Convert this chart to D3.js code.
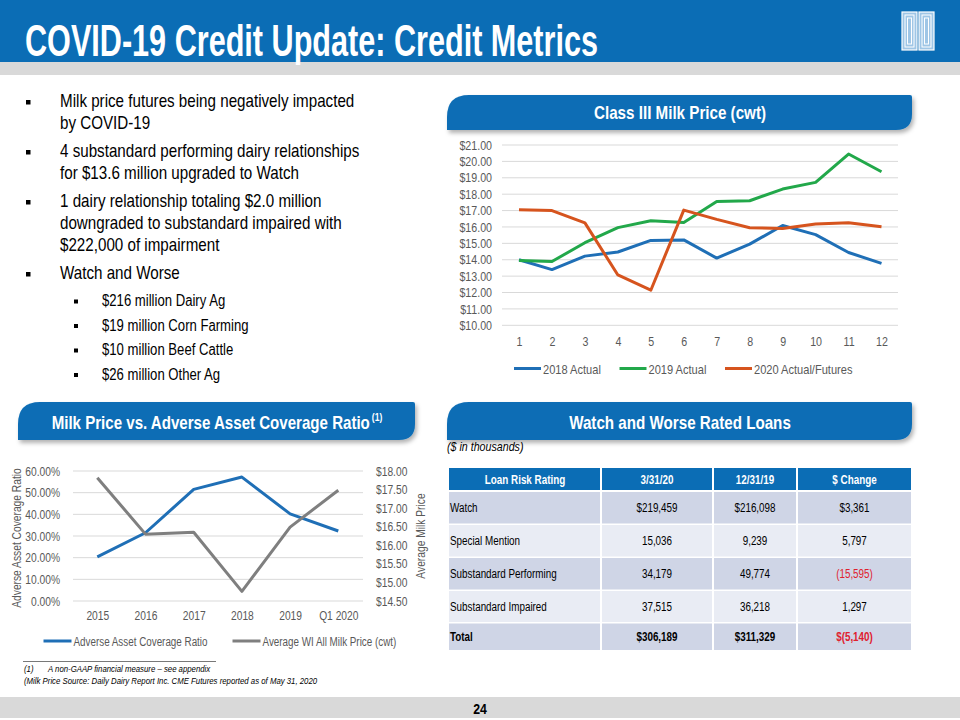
<!DOCTYPE html>
<html>
<head>
<meta charset="utf-8">
<script src="https://cdn.jsdelivr.net/npm/d3@7"></script>
<style>
  html, body { margin: 0; padding: 0; background: #fff; }
  svg { display: block; }
  text { font-family: 'Liberation Sans', Arial, sans-serif; }
</style>
</head>
<body>
<svg id="chart" width="960" height="720"></svg>
<script>
// ---------------- DATA ----------------
const title = "COVID-19 Credit Update: Credit Metrics";
const pageNumber = "24";

const bullets = [
  ["Milk price futures being negatively impacted", "by COVID-19"],
  ["4 substandard performing dairy relationships", "for $13.6 million upgraded to Watch"],
  ["1 dairy relationship totaling $2.0 million", "downgraded to substandard impaired with", "$222,000 of impairment"],
  ["Watch and Worse"]
];
const subBullets = ["$216 million Dairy Ag", "$19 million Corn Farming", "$10 million Beef Cattle", "$26 million Other Ag"];

// Class III milk price chart
const months = ["1","2","3","4","5","6","7","8","9","10","11","12"];
const milk2018 = [14.00, 13.40, 14.22, 14.47, 15.18, 15.21, 14.10, 14.95, 16.09, 15.53, 14.44, 13.78];
const milk2019 = [13.96, 13.89, 15.04, 15.96, 16.38, 16.27, 17.55, 17.60, 18.31, 18.72, 20.45, 19.37];
const milk2020 = [17.05, 17.00, 16.25, 13.07, 12.14, 17.03, 16.46, 15.95, 15.91, 16.18, 16.26, 16.01];
const milkSeriesNames = ["2018 Actual", "2019 Actual", "2020 Actual/Futures"];
const milkTicks = [10, 11, 12, 13, 14, 15, 16, 17, 18, 19, 20, 21];

// Milk price vs adverse asset coverage ratio
const years = ["2015", "2016", "2017", "2018", "2019", "Q1 2020"];
const coverageRatio = [20.4, 31.5, 51.5, 57.2, 40.2, 32.3];
const wiMilkPrice = [17.82, 16.30, 16.35, 14.76, 16.49, 17.48];
const coverageTicks = [0, 10, 20, 30, 40, 50, 60];
const priceTicks = [14.5, 15, 15.5, 16, 16.5, 17, 17.5, 18];
const comboSeriesNames = ["Adverse Asset Coverage Ratio", "Average WI All Milk Price (cwt)"];

// Watch and worse table
const tableHeader = ["Loan Risk Rating", "3/31/20", "12/31/19", "$ Change"];
const ratings = ["Watch", "Special Mention", "Substandard Performing", "Substandard Impaired", "Total"];
const val033120 = ["$219,459", "15,036", "34,179", "37,515", "$306,189"];
const val123119 = ["$216,098", "9,239", "49,774", "36,218", "$311,329"];
const valChange = ["$3,361", "5,797", "(15,595)", "1,297", "$(5,140)"];

const footnotes = ["A non-GAAP financial measure \u2013 see appendix",
                   "(Milk Price Source:  Daily Dairy Report Inc. CME Futures reported as of May 31, 2020"];

// ---------------- DRAWING ----------------
const svg = d3.select("#chart");
const BLUE = "#0B6DB5";
const AXIS_GRAY = "#595959";

const defs = svg.append("defs");
const f = defs.append("filter").attr("id", "shadow").attr("x", "-5%").attr("y", "-20%").attr("width", "115%").attr("height", "160%");
f.append("feDropShadow").attr("dx", 2).attr("dy", 3).attr("stdDeviation", 2).attr("flood-color", "#000").attr("flood-opacity", 0.3);

// Header
svg.append("rect").attr("x", 0).attr("y", 0).attr("width", 960).attr("height", 62).attr("fill", BLUE);
svg.append("rect").attr("x", 0).attr("y", 62).attr("width", 960).attr("height", 13).attr("fill", "#D9D9D9");
svg.append("text").attr("class", "fixed").attr("x", 25).attr("y", 56).attr("fill", "#fff")
  .attr("font-size", 44).attr("font-weight", "bold")
  .attr("textLength", 573).attr("lengthAdjust", "spacingAndGlyphs")
  .text(title);

// Logo (two pillars)
[902, 919].forEach(px => {
  const g = svg.append("g");
  g.append("rect").attr("x", px).attr("y", 12).attr("width", 15).attr("height", 38).attr("fill", "#9FC6E6").attr("stroke", "#fff").attr("stroke-width", 1.2);
  g.append("rect").attr("x", px + 3).attr("y", 15).attr("width", 9).attr("height", 32).attr("fill", "none").attr("stroke", "#fff").attr("stroke-width", 1);
  g.append("rect").attr("x", px + 5.5).attr("y", 18).attr("width", 4).attr("height", 26).attr("fill", "none").attr("stroke", "#fff").attr("stroke-width", 1);
});

// Footer
svg.append("rect").attr("x", 0).attr("y", 697).attr("width", 960).attr("height", 21).attr("fill", "#D9D9D9");
svg.append("text").attr("x", 480).attr("y", 714).attr("text-anchor", "middle").attr("font-size", 15).attr("font-weight", "bold").attr("fill", "#000").text(pageNumber);

// Bullets
const bulletG = svg.append("g");
let by = 107;
bullets.forEach(lines => {
  bulletG.append("rect").attr("x", 26).attr("y", by - 7).attr("width", 4.5).attr("height", 4.5).attr("fill", "#000");
  lines.forEach((ln, i) => {
    bulletG.append("text").attr("x", 60).attr("y", by + i * 22).attr("font-size", 18.5).attr("fill", "#000").text(ln);
  });
  by += lines.length * 22 + 6;
});
subBullets.forEach((s, i) => {
  const y = 306 + i * 24.5;
  bulletG.append("rect").attr("x", 74).attr("y", y - 6.5).attr("width", 4).attr("height", 4).attr("fill", "#000");
  bulletG.append("text").attr("x", 102).attr("y", y).attr("font-size", 16).attr("fill", "#000").text(s);
});

// Tab header helper
function tab(x0, y0, x1, y1, label, cx, sup) {
  const rTL = 22, rBR = 16, r = 2;
  const p = `M${x0},${y1} L${x0},${y0 + rTL} Q${x0},${y0} ${x0 + rTL},${y0} L${x1 - r},${y0} Q${x1},${y0} ${x1},${y0 + r} L${x1},${y1 - rBR} Q${x1},${y1} ${x1 - rBR},${y1} Z`;
  svg.append("path").attr("d", p).attr("fill", BLUE).attr("filter", "url(#shadow)");
  const t = svg.append("text").attr("x", cx).attr("y", y1 - 11).attr("text-anchor", "middle")
    .attr("fill", "#fff").attr("font-size", 18.5).attr("font-weight", "bold");
  t.append("tspan").text(label);
  if (sup) t.append("tspan").attr("font-size", 10.5).attr("dx", 2.5).attr("dy", -8).text(sup);
}
tab(447, 95, 912, 130, "Class III Milk Price (cwt)", 680);
tab(18, 402, 415, 440, "Milk Price vs. Adverse Asset Coverage Ratio", 217, "(1)");
tab(447, 402, 912, 440, "Watch and Worse Rated Loans", 680);

// ---------- Class III Milk Price chart ----------
const mc = svg.append("g");
const mx = d3.scalePoint().domain(months).range([519, 881.5]);
const my = d3.scaleLinear().domain([10, 21]).range([325.3, 145]);
const gridL = 502, gridR = 898;

mc.append("g").selectAll("line").data(milkTicks).join("line")
  .attr("x1", gridL).attr("x2", gridR).attr("y1", d => my(d)).attr("y2", d => my(d))
  .attr("stroke", "#D9D9D9").attr("stroke-width", 1);

const myAxis = mc.append("g").attr("transform", `translate(${gridL - 10},0)`)
  .call(d3.axisLeft(my).tickValues(milkTicks).tickSize(0).tickPadding(0).tickFormat(d => "$" + d3.format(".2f")(d)));
myAxis.select(".domain").remove();
myAxis.selectAll("text").attr("font-size", 13).attr("fill", AXIS_GRAY).attr("font-family", null);

const mxAxis = mc.append("g").attr("transform", `translate(0,${337})`)
  .call(d3.axisBottom(mx).tickSize(0).tickPadding(0));
mxAxis.select(".domain").remove();
mxAxis.selectAll("text").attr("font-size", 13).attr("fill", AXIS_GRAY).attr("font-family", null);

const milkColors = ["#1F6FB6", "#22A84A", "#D6541E"];
const milkData = [milk2018, milk2019, milk2020];
const mline = d3.line().x((d, i) => mx(months[i])).y(d => my(d));
mc.selectAll("path.series").data(milkData).join("path").attr("class", "series")
  .attr("d", mline).attr("fill", "none").attr("stroke", (d, i) => milkColors[i])
  .attr("stroke-width", 3).attr("stroke-linejoin", "round");

const legX = [514, 619.5, 725];
milkSeriesNames.forEach((n, i) => {
  mc.append("line").attr("x1", legX[i]).attr("x2", legX[i] + 27).attr("y1", 368.5).attr("y2", 368.5)
    .attr("stroke", milkColors[i]).attr("stroke-width", 3);
  mc.append("text").attr("x", legX[i] + 29).attr("y", 373.5).attr("font-size", 13.5).attr("fill", AXIS_GRAY).text(n);
});

// ---------- Combo chart ----------
const cc = svg.append("g");
const cx = d3.scalePoint().domain(years).range([97.3, 338.3]);
const cyL = d3.scaleLinear().domain([0, 60]).range([601, 471]);
const cyR = d3.scaleLinear().domain([14.5, 18]).range([601, 471]);
const cGridL = 73, cGridR = 363;

cc.append("g").selectAll("line").data(coverageTicks).join("line")
  .attr("x1", cGridL).attr("x2", cGridR).attr("y1", d => cyL(d)).attr("y2", d => cyL(d))
  .attr("stroke", "#D9D9D9").attr("stroke-width", 1);

const lAx = cc.append("g").attr("transform", `translate(${cGridL - 13},0)`)
  .call(d3.axisLeft(cyL).tickValues(coverageTicks).tickSize(0).tickPadding(0).tickFormat(d => d3.format(".2f")(d) + "%"));
lAx.select(".domain").remove();
lAx.selectAll("text").attr("font-size", 12.5).attr("fill", AXIS_GRAY).attr("font-family", null);

const rAx = cc.append("g").attr("transform", `translate(${cGridR + 13},0)`)
  .call(d3.axisRight(cyR).tickValues(priceTicks).tickSize(0).tickPadding(0).tickFormat(d => "$" + d3.format(".2f")(d)));
rAx.select(".domain").remove();
rAx.selectAll("text").attr("font-size", 12.5).attr("fill", AXIS_GRAY).attr("font-family", null);

const bAx = cc.append("g").attr("transform", `translate(0,${611})`)
  .call(d3.axisBottom(cx).tickSize(0).tickPadding(0));
bAx.select(".domain").remove();
bAx.selectAll("text").attr("font-size", 12.5).attr("fill", AXIS_GRAY).attr("font-family", null);

cc.append("text").attr("transform", "translate(21,538) rotate(-90)").attr("text-anchor", "middle")
  .attr("font-size", 12.5).attr("fill", AXIS_GRAY).text("Adverse Asset Coverage Ratio");
cc.append("text").attr("transform", "translate(425,536) rotate(-90)").attr("text-anchor", "middle")
  .attr("font-size", 12.5).attr("fill", AXIS_GRAY).text("Average Milk Price");

const comboColors = ["#1F6FB6", "#7F7F7F"];
cc.append("path").datum(coverageRatio)
  .attr("d", d3.line().x((d, i) => cx(years[i])).y(d => cyL(d)))
  .attr("fill", "none").attr("stroke", comboColors[0]).attr("stroke-width", 3).attr("stroke-linejoin", "round");
cc.append("path").datum(wiMilkPrice)
  .attr("d", d3.line().x((d, i) => cx(years[i])).y(d => cyR(d)))
  .attr("fill", "none").attr("stroke", comboColors[1]).attr("stroke-width", 3).attr("stroke-linejoin", "round");

const cLegX = [43.5, 232.5];
comboSeriesNames.forEach((n, i) => {
  cc.append("line").attr("x1", cLegX[i]).attr("x2", cLegX[i] + 28).attr("y1", 641).attr("y2", 641)
    .attr("stroke", comboColors[i]).attr("stroke-width", 3);
  cc.append("text").attr("x", cLegX[i] + 30).attr("y", 645.5).attr("font-size", 12).attr("fill", AXIS_GRAY).text(n);
});

// Footnotes
svg.append("line").attr("x1", 23).attr("x2", 216).attr("y1", 661.5).attr("y2", 661.5).attr("stroke", "#555").attr("stroke-width", 0.8);
svg.append("text").attr("x", 24).attr("y", 671.5).attr("font-size", 9.5).attr("font-style", "italic").attr("fill", "#000").text("(1)");
svg.append("text").attr("x", 48).attr("y", 671.5).attr("font-size", 9.5).attr("font-style", "italic").attr("fill", "#000").text(footnotes[0]);
svg.append("text").attr("x", 24).attr("y", 683.5).attr("font-size", 9.5).attr("font-style", "italic").attr("fill", "#000").text(footnotes[1]);

// ---------- Table ----------
svg.append("text").attr("x", 447).attr("y", 451).attr("font-size", 13).attr("font-style", "italic").attr("fill", "#000").text("($ in thousands)");

const colEdges = [449, 601, 713, 797, 912];
const tg = svg.append("g");
const rowTops = [468, 492, 525, 558, 591, 623.5];
const rowBots = [490, 523.5, 556.5, 589.5, 622, 650];
tableHeader.forEach((h, c) => {
  tg.append("rect").attr("x", colEdges[c] + (c ? 1 : 0)).attr("y", rowTops[0])
    .attr("width", colEdges[c + 1] - colEdges[c] - (c ? 1 : 0) - 1).attr("height", rowBots[0] - rowTops[0]).attr("fill", BLUE);
  tg.append("text").attr("x", (colEdges[c] + colEdges[c + 1]) / 2).attr("y", rowTops[0] + 15.5)
    .attr("text-anchor", "middle").attr("font-size", 12).attr("font-weight", "bold").attr("fill", "#fff").text(h);
});
ratings.forEach((r, i) => {
  const top = rowTops[i + 1], bot = rowBots[i + 1];
  const fill = i % 2 === 0 ? "#CFD5E6" : "#E9ECF4";
  const vals = [r, val033120[i], val123119[i], valChange[i]];
  const isTotal = r === "Total";
  vals.forEach((v, c) => {
    tg.append("rect").attr("x", colEdges[c] + (c ? 1 : 0)).attr("y", top)
      .attr("width", colEdges[c + 1] - colEdges[c] - (c ? 1 : 0) - 1).attr("height", bot - top).attr("fill", fill);
    const neg = c === 3 && v.indexOf("(") >= 0;
    tg.append("text")
      .attr("x", c === 0 ? 450 : (colEdges[c] + colEdges[c + 1]) / 2)
      .attr("y", (top + bot) / 2 + 4.5)
      .attr("text-anchor", c === 0 ? "start" : "middle")
      .attr("font-size", 12).attr("font-weight", isTotal ? "bold" : "normal")
      .attr("fill", neg ? "#E0202E" : "#000").text(v);
  });
});

// Condense all text to emulate the narrow typeface of the original (no narrow font installed)
svg.selectAll("text").filter(function () { return !this.classList.contains("fixed"); })
  .each(function () {
    const len = this.getComputedTextLength();
    if (len > 0) d3.select(this).attr("textLength", len * 0.82).attr("lengthAdjust", "spacingAndGlyphs");
  });
</script>
</body>
</html>
